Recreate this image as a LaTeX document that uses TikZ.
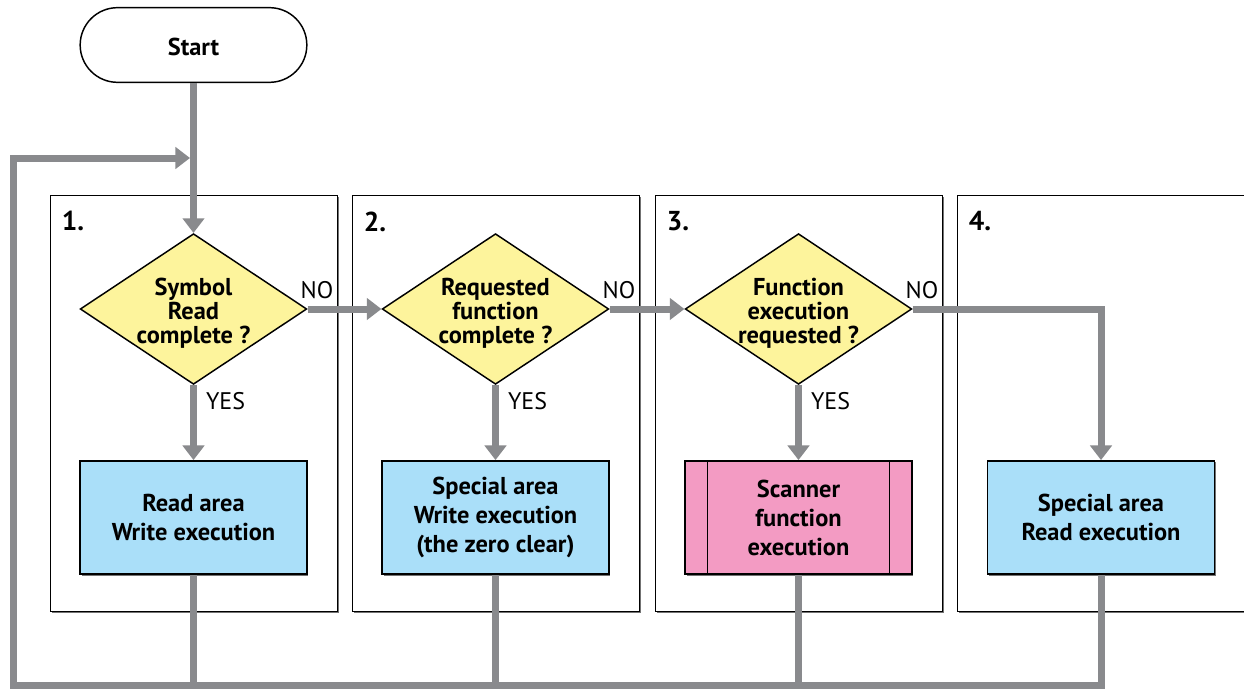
\documentclass[tikz,border=0pt]{standalone}
\usepackage{fontspec}
\setmainfont{PT Sans}
\usetikzlibrary{positioning,arrows.meta,shapes.geometric,shadows}

\definecolor{flowgray}{RGB}{137,138,141}
\definecolor{decyellow}{RGB}{253,244,156}
\definecolor{procblue}{RGB}{170,223,249}
\definecolor{procpink}{RGB}{243,155,195}

\tikzset{every picture/.style={line width=0.75pt}}
\tikzset{
	flowline/.style={draw=flowgray, line width=5.25pt},
	flowarrow/.style={flowline, -{Triangle[length=11pt,width=16pt]}},
	boxshadow/.style={drop shadow={shadow xshift=1pt, shadow yshift=-1pt, fill=black!55, opacity=1}},
	panel/.style={draw, line width=1.1pt, fill=white, boxshadow, anchor=north west,
		minimum width=215pt, minimum height=312pt, inner sep=0pt},
	panelnum/.style={font=\fontsize{20.5}{22}\selectfont\bfseries, inner sep=0pt},
	startbox/.style={draw, line width=1.1pt, rounded corners=28pt, minimum width=170pt,
		minimum height=56pt, text height=16pt, text depth=0pt,
		font=\fontsize{18.3}{20}\selectfont\bfseries},
	decision/.style={shape=diamond, draw, line width=1.1pt, fill=decyellow, minimum width=170pt,
		minimum height=113pt, inner sep=-10pt, align=center,
		font=\fontsize{18.3}{18}\selectfont\bfseries},
	process/.style={draw, line width=1.1pt, fill=procblue, boxshadow, minimum width=170pt,
		minimum height=85pt, align=center, font=\fontsize{18.3}{21.75}\selectfont\bfseries},
	yesno/.style={font=\fontsize{18}{20}\selectfont, inner sep=0pt}}
\newcommand{\decstrut}{\rule{0pt}{20pt}}

\begin{document}
\begin{tikzpicture}[x=0.75pt,y=0.75pt,yscale=-1,xscale=1]
	\useasboundingbox (0,0) rectangle (1244,688);

	%Shape: Panels
	\node[panel] (panel1) at (50,195) {};
	\node[panel] (panel2) at (352,195) {};
	\node[panel] (panel3) at (655,195) {};
	\node[panel] (panel4) at (957,195) {};
	% Text Node
	\node[panelnum, below right=12pt and 8.5pt of panel1.north west] (num1) {1.};
	\node[panelnum, below right=12pt and 8.5pt of panel2.north west] (num2) {2.};
	\node[panelnum, below right=12pt and 8.5pt of panel3.north west] (num3) {3.};
	\node[panelnum, below right=12pt and 8.5pt of panel4.north west] (num4) {4.};

	%Shape: Start
	\node[startbox] (start) at (193.5,45) {Start};

	%Shape: Decisions
	\node[decision] (dec1) at (193.5,309) {\decstrut Symbol\\Read\\complete ?};
	\node[decision] (dec2) at (495.5,309) {\decstrut Requested\\function\\complete ?};
	\node[decision] (dec3) at (798.5,309) {\decstrut Function\\execution\\requested ?};

	%Shape: Processes
	\node[process] (proc1) at (193.5,517.5) {Read area\\Write execution};
	\node[process] (proc2) at (495.5,517.5) {Special area\\Write execution\\(the zero clear)};
	\node[process, fill=procpink] (proc3) at (798.5,517.5) {Scanner\\function\\execution};
	\node[process] (proc4) at (1101,517.5) {Special area\\Read execution};
	\draw ([xshift=17pt]proc3.north west) -- ([xshift=17pt]proc3.south west);
	\draw ([xshift=-17pt]proc3.north east) -- ([xshift=-17pt]proc3.south east);

	%Straight Lines: return loop
	\coordinate (loopbl) at (13,685);
	\coordinate (looptl) at (13,158);
	\draw[flowline] (proc1) -- (proc1 |- loopbl);
	\draw[flowline] (proc2) -- (proc2 |- loopbl);
	\draw[flowline] (proc3) -- (proc3 |- loopbl);
	\draw[flowarrow, shorten >=2.6pt] (proc4) |- (loopbl) -- (looptl) -- (looptl -| start.south);

	%Straight Lines: flow
	\draw[flowarrow] (start) -- (dec1);
	\draw[flowarrow] (dec1) -- (proc1);
	\draw[flowarrow] (dec2) -- (proc2);
	\draw[flowarrow] (dec3) -- (proc3);
	\draw[flowarrow] (dec1) -- (dec2);
	\draw[flowarrow] (dec2) -- (dec3);
	\draw[flowarrow] (dec3) -| (proc4);

	% Text Node
	\node[yesno, above right=7pt and -5.5pt of dec1.east] (no1) {NO};
	\node[yesno, above right=7pt and -5.5pt of dec2.east] (no2) {NO};
	\node[yesno, above right=7pt and -5.5pt of dec3.east] (no3) {NO};
	\node[yesno, below right=5pt and 9pt of dec1.south] (yes1) {YES};
	\node[yesno, below right=5pt and 9pt of dec2.south] (yes2) {YES};
	\node[yesno, below right=5pt and 9pt of dec3.south] (yes3) {YES};
\end{tikzpicture}
\end{document}
